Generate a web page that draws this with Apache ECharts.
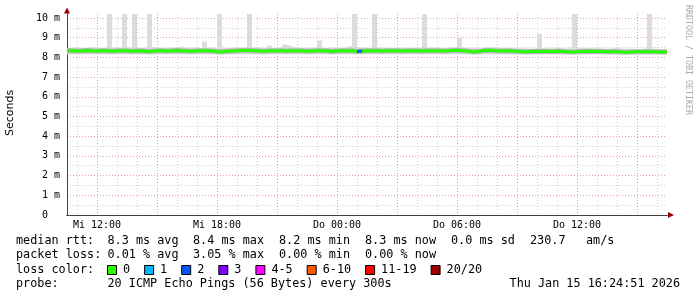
<!DOCTYPE html>
<html><head><meta charset="utf-8">
<script src="https://cdn.jsdelivr.net/npm/echarts@6/dist/echarts.min.js"></script>
<style>html,body{margin:0;padding:0;background:#fff}#c{width:697px;height:297px}</style>
</head><body><div id="c"></div><script>
// ---- data (milliseconds), one value per 15 minutes starting Mi 10:30 ----
const medianRtt = [
 8.33,8.34,8.32,8.33,8.35,8.33,8.32,8.34,8.33,8.31,
 8.33,8.34,8.33,8.31,8.32,8.33,8.30,8.31,8.33,8.34,
 8.32,8.33,8.35,8.33,8.32,8.31,8.33,8.34,8.33,8.32,
 8.30,8.29,8.31,8.32,8.33,8.35,8.36,8.34,8.33,8.31,
 8.32,8.33,8.34,8.33,8.32,8.33,8.34,8.33,8.31,8.32,
 8.33,8.34,8.33,8.30,8.32,8.33,8.34,8.33,8.30,8.32,
 8.33,8.34,8.33,8.32,8.33,8.34,8.33,8.32,8.33,8.34,
 8.33,8.32,8.33,8.34,8.33,8.32,8.33,8.35,8.36,8.34,
 8.32,8.29,8.28,8.33,8.36,8.35,8.33,8.32,8.33,8.32,
 8.31,8.29,8.28,8.30,8.31,8.30,8.31,8.30,8.31,8.30,
 8.29,8.27,8.28,8.30,8.31,8.30,8.31,8.30,8.29,8.30,
 8.29,8.27,8.26,8.27,8.28,8.29,8.28,8.29,8.28,8.27,
 8.27
];
const smokeMax = [
 8.48,8.50,8.47,8.49,8.52,8.48,8.47,8.50,10.2,8.49,
 8.48,10.2,8.50,10.2,8.47,8.50,10.2,8.52,8.48,8.47,
 8.50,8.53,8.55,8.49,8.48,8.50,8.47,8.80,8.50,8.48,
 10.2,8.47,8.49,8.50,8.48,8.52,10.2,8.50,8.49,8.47,
 8.60,8.48,8.50,8.65,8.55,8.50,8.48,8.47,8.49,8.50,
 8.85,8.48,8.50,8.47,8.49,8.52,8.60,10.2,8.50,8.48,
 8.49,10.2,8.50,8.47,8.48,8.50,8.49,8.47,8.48,8.50,
 8.49,10.2,8.50,8.48,8.47,8.49,8.50,8.52,9.00,8.50,
 8.48,8.47,8.45,8.50,8.52,8.49,8.48,8.47,8.46,8.45,
 8.47,8.45,8.44,8.46,9.20,8.46,8.45,8.47,8.48,8.45,
 8.46,10.2,8.48,8.46,8.47,8.45,8.46,8.44,8.45,8.47,
 8.46,8.44,8.45,8.43,8.44,8.45,10.2,8.44,8.43,8.44,
 8.43
];
const smokeMin = 8.14;
const lossEvents = [{time:'Do 01:00', lost:2}];
const tickLabels = ['Mi 12:00','Mi 18:00','Do 00:00','Do 06:00','Do 12:00'];
const yTickValues = [0,1,2,3,4,5,6,7,8,9,10];
const lossBuckets = [
 {label:'0', min:0, max:0, color:'#26ff00'},
 {label:'1', min:1, max:1, color:'#00b8ff'},
 {label:'2', min:2, max:2, color:'#0059ff'},
 {label:'3', min:3, max:3, color:'#7e00ff'},
 {label:'4-5', min:4, max:5, color:'#ff00ff'},
 {label:'6-10', min:6, max:10, color:'#ff5500'},
 {label:'11-19', min:11, max:19, color:'#ff0000'},
 {label:'20/20', min:20, max:20, color:'#a00000'}
];
const rttStats = ['median rtt:','8.3 ms avg','8.4 ms max','8.2 ms min','8.3 ms now','0.0 ms sd','230.7','am/s'];
const lossStats = ['packet loss:','0.01 % avg','3.05 % max','0.00 % min','0.00 % now'];
const probeText = ['probe:','20 ICMP Echo Pings (56 Bytes) every 300s'];
const dateText = 'Thu Jan 15 16:24:51 2026';
const yAxisName = 'Seconds';
const watermark = 'RRDTOOL / TOBI OETIKER';

// ---- categories ----
const dayAbbr = ['Mi','Do'];
const startMin = 10*60+30, stepMin = 15;
const times = medianRtt.map((_, i) => {
  const t = startMin + i*stepMin, d = Math.floor(t/1440), m = t % 1440;
  return dayAbbr[d] + ' ' + String(Math.floor(m/60)).padStart(2,'0') + ':' + String(m%60).padStart(2,'0');
});
const lossCount = times.map(t => { const e = lossEvents.find(x => x.time === t); return e ? e.lost : 0; });
const hourOf = v => parseInt(v.slice(3,5),10), minOf = v => parseInt(v.slice(6,8),10);
const isHour = v => minOf(v) === 0;
const isMajor = v => isHour(v) && hourOf(v) % 3 === 0;

const MONO = '"DejaVu Sans Mono", monospace';
const arrowColor = '#900000', axisColor = '#404040';
const majorGrid = '#e6a0a0', minorGrid = '#d0d0d0';

const series = [
  {type:'line', name:'smoke', data:smokeMax, step:'end', symbol:'none', silent:true,
   lineStyle:{width:0, opacity:0}, areaStyle:{color:'#dcdcdc', opacity:1, origin:smokeMin}, z:2},
  {type:'line', name:'shadow', data:medianRtt, symbol:'none', silent:true,
   lineStyle:{width:5, color:'rgba(110,110,110,0.35)'}, z:3},
  {type:'line', name:'median', data:medianRtt, symbol:'none', silent:true,
   lineStyle:{width:3, color:lossBuckets[0].color}, z:4}
];
lossBuckets.slice(1).forEach(b => {
  const inB = c => c >= b.min && c <= b.max;
  const d = medianRtt.map((v, j) => (inB(lossCount[j]) || (j > 0 && inB(lossCount[j-1]))) ? v : null);
  if (d.some(v => v !== null)) series.push({type:'line', data:d, symbol:'none', silent:true, connectNulls:false,
    lineStyle:{width:3, color:b.color}, z:5});
});

// ---- legend graphics ----
const graphic = [];
const txt = (x, y, s, opts) => graphic.push(Object.assign({type:'text', x, y, silent:true,
  style:Object.assign({text:s, font:'11.8px ' + MONO, fill:'#000', textAlign:'left', textVerticalAlign:'middle', align:'left', verticalAlign:'middle'}, opts||{})}));
const colX = [16,107.5,193,279,365,451,530,586];
rttStats.forEach((s,i) => txt(colX[i], 241.3, s));
lossStats.forEach((s,i) => txt(colX[i], 255.2, s));
txt(16, 269.5, 'loss color:');
let lx = 123;
lossBuckets.forEach(b => {
  graphic.push({type:'rect', silent:true, shape:{x:lx-15.5, y:265.5, width:9, height:9}, style:{fill:b.color, stroke:'#000', lineWidth:1}});
  txt(lx, 269.5, b.label);
  lx += b.label.length*7.1 + 30;
});
txt(16, 283.5, probeText[0]);
txt(107.5, 283.5, probeText[1]);
txt(680, 283.5, dateText, {textAlign:'right', align:'right'});
graphic.push({type:'text', x:10, y:113, rotation:Math.PI/2, silent:true,
  style:{text:yAxisName, font:'11px "DejaVu Sans", sans-serif', fill:'#000', textAlign:'center', textVerticalAlign:'middle', align:'center', verticalAlign:'middle'}});
graphic.push({type:'text', x:688, y:5, rotation:-Math.PI/2, silent:true,
  style:{text:watermark, font:'8.3px ' + MONO, fill:'#aaaaaa', textAlign:'left', textVerticalAlign:'middle', align:'left', verticalAlign:'middle'}});

const chart = echarts.init(document.getElementById('c'), null, {renderer:'canvas', width:697, height:297});
chart.setOption({
  animation:false,
  backgroundColor:'#ffffff',
  grid:{left:67, top:14, width:600, height:201, containLabel:false},
  xAxis:[
    {type:'category', data:times, boundaryGap:false, position:'bottom',
     axisLine:{show:true, onZero:false, lineStyle:{color:arrowColor, width:1}, symbol:['none','triangle'], symbolSize:[6,6], symbolOffset:[0,4]},
     axisTick:{show:false},
     axisLabel:{interval:(i,v) => tickLabels.indexOf(v) >= 0, margin:5, fontFamily:MONO, fontSize:10, color:'#000'},
     splitLine:{show:true, interval:(i,v) => isHour(v) && !isMajor(v), lineStyle:{color:minorGrid, type:[1,2], width:1}}},
    {type:'category', data:times, boundaryGap:false, position:'bottom',
     axisLine:{show:true, onZero:false, lineStyle:{color:axisColor, width:1}},
     axisTick:{show:false}, axisLabel:{show:false},
     splitLine:{show:true, interval:(i,v) => isMajor(v), lineStyle:{color:majorGrid, type:[1,2], width:1}}}
  ],
  yAxis:[
    {type:'value', min:0, max:10.2, interval:0.5, position:'left',
     axisLine:{show:true, onZero:false, lineStyle:{color:arrowColor, width:1}, symbol:['none','triangle'], symbolSize:[6,6], symbolOffset:[0,3.5]},
     axisTick:{show:false},
     axisLabel:{showMaxLabel:false, margin:7, fontFamily:MONO, fontSize:10, color:'#000',
       formatter: v => yTickValues.indexOf(v) < 0 ? '' : (v === 0 ? '0  ' : v + ' m')},
     splitLine:{show:true, showMaxLine:false, lineStyle:{color:[majorGrid, minorGrid], type:[1,2], width:1}}},
    {type:'value', min:0, max:10.2, interval:0.5, position:'left',
     axisLine:{show:true, onZero:false, lineStyle:{color:axisColor, width:1}},
     axisTick:{show:false}, axisLabel:{show:false}, splitLine:{show:false}}
  ],
  series: series,
  graphic: graphic
});
</script></body></html>
